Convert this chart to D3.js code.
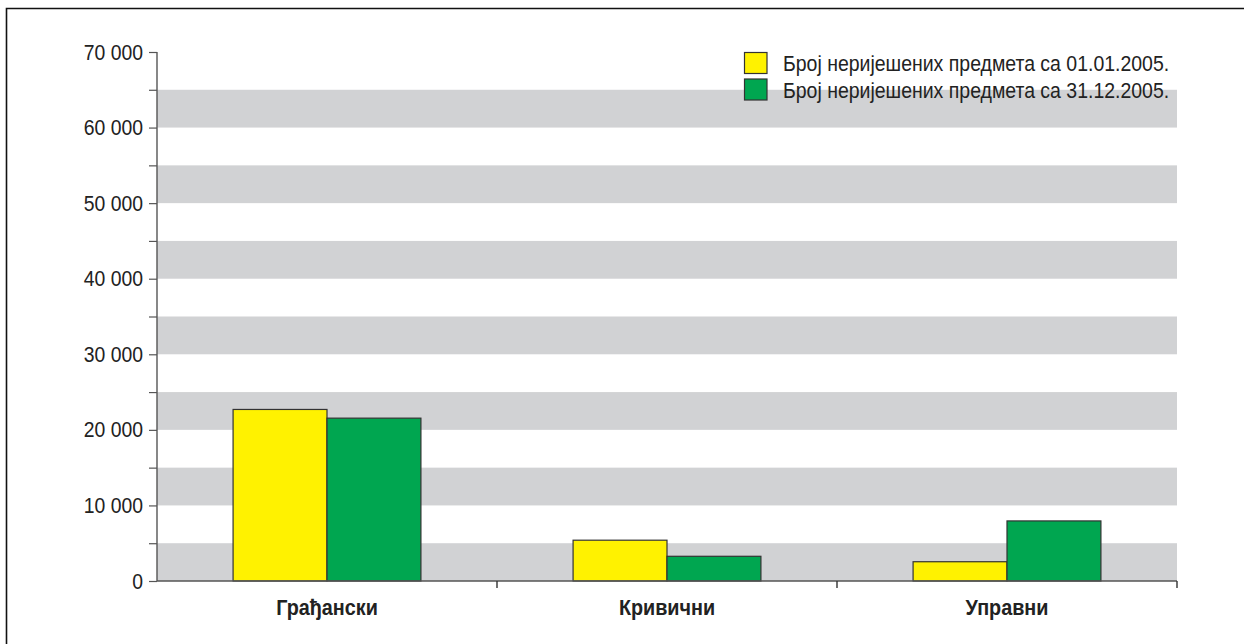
<!DOCTYPE html>
<html><head><meta charset="utf-8">
<script src="https://cdn.jsdelivr.net/npm/d3@7"></script>
<style>body{margin:0;background:#fff}svg{display:block}</style>
</head><body><svg id="c" width="1244" height="644"></svg>
<script>
const categories = ["Грађански", "Кривични", "Управни"];
const seriesNames = ["Број неријешених предмета са 01.01.2005.", "Број неријешених предмета са 31.12.2005."];
const start2005 = [22700, 5400, 2550];
const end2005 = [21550, 3270, 7950];
const yTicks = [0, 10000, 20000, 30000, 40000, 50000, 60000, 70000];
const colors = ["#fff200", "#00a650"];

const svg = d3.select("#c");
const FONT = "'Liberation Sans', Arial, sans-serif";
const m = {l: 157, r: 1177, t: 52, b: 581};
const x = d3.scaleBand().domain(categories).range([m.l, m.r]).paddingInner(0).paddingOuter(0);
const y = d3.scaleLinear().domain([0, 70000]).range([m.b, m.t]);
const xs = d3.scaleBand().domain([0, 1]).range([0, x.bandwidth()]).paddingOuter(0.81).paddingInner(0);

function narrow(sel, sx) {
  sel.each(function () {
    const t = d3.select(this);
    const xv = +t.attr("x") || 0;
    t.attr("x", xv / sx).attr("transform", `scale(${sx},1)`);
  });
}

// frame
svg.append("path").attr("d", `M6.5,644 V8.5 H1244`).attr("fill", "none").attr("stroke", "#111").attr("stroke-width", 1.6);

// gray bands
const bands = d3.range(0, 70000, 10000);
svg.append("g").selectAll("rect").data(bands).join("rect")
  .attr("x", m.l).attr("width", m.r - m.l)
  .attr("y", d => y(d + 5000)).attr("height", d => y(d) - y(d + 5000))
  .attr("fill", "#d1d2d4");

// bars
const data = [start2005, end2005];
const g = svg.append("g");
data.forEach((vals, si) => {
  g.selectAll(null).data(categories).join("rect")
    .attr("x", c => x(c) + xs(si))
    .attr("width", xs.bandwidth())
    .attr("y", (c, i) => y(vals[i]))
    .attr("height", (c, i) => y(0) - y(vals[i]))
    .attr("fill", colors[si]).attr("stroke", "#333").attr("stroke-width", 1.2);
});

// y axis
const ya = d3.axisLeft(y).tickValues(d3.range(0, 70001, 5000)).tickSize(8).tickPadding(6)
  .tickFormat(d => yTicks.includes(d) ? d3.format(",")(d).replace(/,/g, " ") : "");
const yg = svg.append("g").attr("transform", `translate(${m.l},0)`).call(ya);
yg.select(".domain").attr("stroke", "#555").attr("stroke-width", 1.4).attr("d", `M0,${m.t}V${m.b}`);
yg.selectAll(".tick line").attr("stroke", "#555").attr("stroke-width", 1.2);
yg.selectAll("text").attr("font-family", FONT).attr("font-size", 22).attr("fill", "#222");
narrow(yg.selectAll("text"), 0.88);

// x axis
const xa = d3.axisBottom(x).tickSize(0).tickPadding(18);
const xg = svg.append("g").attr("transform", `translate(0,${m.b})`).call(xa);
xg.select(".domain").attr("stroke", "#555").attr("stroke-width", 1.4).attr("d", `M${m.l},0H${m.r}`);
xg.selectAll("text").attr("font-family", FONT).attr("font-size", 22).attr("font-weight", "bold").attr("fill", "#222");
narrow(xg.selectAll("text"), 0.9);
// separator ticks
xg.selectAll(".sep").data(categories).join("line").attr("class", "sep")
  .attr("x1", c => x(c) + x.bandwidth()).attr("x2", c => x(c) + x.bandwidth())
  .attr("y1", 0).attr("y2", 7).attr("stroke", "#333").attr("stroke-width", 1.4);

// legend
const lg = svg.append("g");
seriesNames.forEach((s, i) => {
  lg.append("rect").attr("x", 744.5).attr("y", 52.5 + i * 26.5).attr("width", 22.5).attr("height", 21)
    .attr("fill", colors[i]).attr("stroke", "#333").attr("stroke-width", 1.2);
  lg.append("text").attr("x", 783).attr("y", 71.5 + i * 26.5).text(s)
    .attr("font-family", FONT).attr("font-size", 22).attr("fill", "#222");
});
narrow(lg.selectAll("text"), 0.885);
</script></body></html>
